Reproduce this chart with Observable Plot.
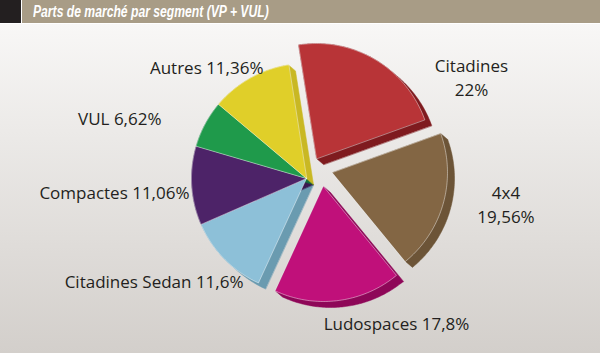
<!DOCTYPE html>
<html>
<head>
<meta charset="utf-8">
<script src="https://cdn.jsdelivr.net/npm/d3@7"></script>
<script src="https://cdn.jsdelivr.net/npm/@observablehq/plot@0.6"></script>
<style>
  html, body { margin: 0; padding: 0; }
  body { width: 600px; height: 353px; overflow: hidden; background: #ffffff; }
  #bar { position: relative; height: 24px; width: 600px; background: #ffffff; }
  #bar .sq { position: absolute; left: 0; top: 0; width: 21px; height: 23px; background: #231f20; }
  #bar .band { position: absolute; left: 22px; top: 0; width: 578px; height: 23px; background: #a89c86; }
  #bar .title { position: absolute; left: 33px; top: 0; height: 23px; line-height: 24px;
    font-family: "Liberation Sans", Arial, sans-serif; font-weight: bold; font-style: italic;
    font-size: 16px; color: #ffffff; white-space: nowrap;
    transform: scaleX(0.76); transform-origin: 0 50%; }
  #chart { width: 600px; height: 329px; background: linear-gradient(#f8f7f6, #d3cfcb); }
  #chart svg { display: block; }
</style>
</head>
<body>
<div id="bar"><div class="sq"></div><div class="band"></div><div class="title">Parts de marché par segment (VP + VUL)</div></div>
<div id="chart"></div>
<script>
// ---- data ----
const categories = ["Citadines", "4x4", "Ludospaces", "Citadines Sedan", "Compactes", "VUL", "Autres"];
const shares = [22, 19.56, 17.8, 11.6, 11.06, 6.62, 11.36];
const labelTexts = ["Citadines\n22%", "4x4\n19,56%", "Ludospaces 17,8%", "Citadines Sedan 11,6%", "Compactes 11,06%", "VUL 6,62%", "Autres 11,36%"];

// ---- styles ----
const faceColors = ["#b83437", "#836644", "#c0107a", "#8dc0d8", "#4d2368", "#1f9a4b", "#e0cf29"];
const sideColors = ["#7f1b1f", "#6c5437", "#8e0758", "#6a9bb0", "#3a1850", "#15703a", "#c9b823"];

// ---- layout (pixels) ----
const W = 600, H = 329, TOP = 24;
const center = [306, 178];
const radius = 115;
const startDeg = -9;
const depth = [7, 6];
const explode = {"Citadines": [10, -20], "4x4": [26, -6], "Ludospaces": [17, 8]};
const labelLayout = {
  "Citadines": {x: 471, y: 95, anchor: "middle"},
  "4x4": {x: 505.5, y: 222, anchor: "middle"},
  "Ludospaces": {x: 396, y: 329, anchor: "middle"},
  "Citadines Sedan": {x: 243, y: 287, anchor: "end"},
  "Compactes": {x: 189, y: 198, anchor: "end"},
  "VUL": {x: 161, y: 124, anchor: "end"},
  "Autres": {x: 263, y: 73, anchor: "end"}
};

const pieData = categories.map((c, i) => ({c, v: shares[i], i}));
const start = startDeg * Math.PI / 180;
const arcs = d3.pie().sort(null).value(d => d.v).startAngle(start).endAngle(start + 2 * Math.PI)(pieData);

const faces = [], sides = [];
arcs.forEach(a => {
  const c = a.data.c, i = a.data.i;
  const off = explode[c] || [0, 0];
  const ox = center[0] + off[0], oy = center[1] + off[1];
  const pts = [[ox, oy]];
  const n = 80;
  for (let k = 0; k <= n; k++) {
    const t = a.startAngle + (a.endAngle - a.startAngle) * k / n;
    pts.push([ox + radius * Math.sin(t), oy - radius * Math.cos(t)]);
  }
  pts.forEach(p => faces.push({key: c, x: p[0], y: p[1], color: faceColors[i]}));
  const all = pts.concat(pts.map(p => [p[0] + depth[0], p[1] + depth[1]]));
  const hull = d3.polygonHull(all);
  hull.forEach(p => sides.push({key: c, x: p[0], y: p[1], color: sideColors[i]}));
});

const labels = categories.map((c, i) => ({c, text: labelTexts[i], ...labelLayout[c]}));

const textMark = anchor => Plot.text(labels.filter(d => d.anchor === anchor), {
  x: "x", y: "y", text: "text", textAnchor: anchor, lineAnchor: "bottom", lineHeight: 1.38,
  fill: "#231f20", fontSize: 17
});

const plot = Plot.plot({
  width: W, height: H,
  marginTop: 0, marginRight: 0, marginBottom: 0, marginLeft: 0,
  x: {domain: [0, W], range: [0, W], axis: null},
  y: {domain: [TOP, TOP + H], range: [0, H], axis: null},
  color: {type: "identity"},
  style: {background: "transparent", fontFamily: "'Open Sans', sans-serif", overflow: "visible"},
  marks: [
    Plot.line(sides, {x: "x", y: "y", z: "key", fill: "color", stroke: "color", strokeWidth: 0.5, curve: "linear-closed"}),
    Plot.line(faces, {x: "x", y: "y", z: "key", fill: "color", stroke: "#ffffff", strokeOpacity: 0.55, strokeWidth: 0.8, curve: "linear-closed"}),
    textMark("middle"),
    textMark("end"),
    textMark("start")
  ]
});
document.getElementById("chart").appendChild(plot);
</script>
</body>
</html>
